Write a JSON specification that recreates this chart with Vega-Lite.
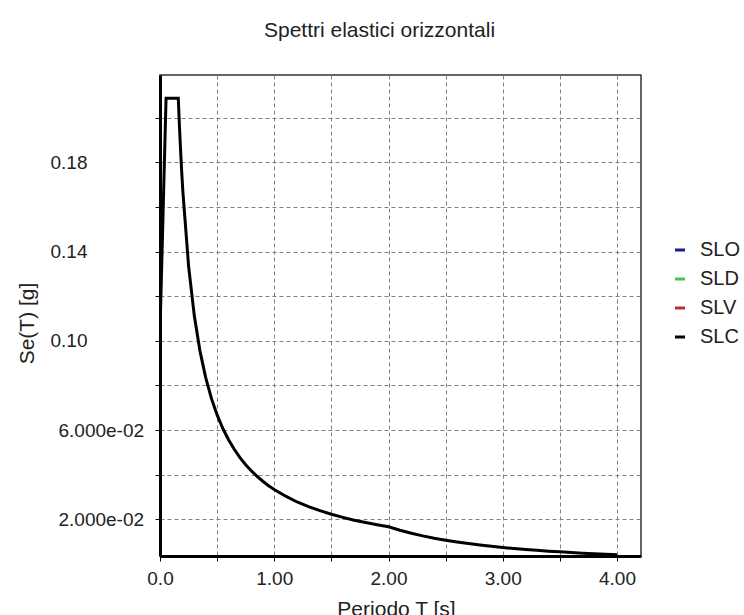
{
  "$schema": "https://vega.github.io/schema/vega-lite/v6.json",
  "width": 481,
  "height": 481,
  "autosize": {"type": "none"},
  "padding": {"left": 160, "top": 75, "right": 103, "bottom": 59},
  "background": "white",
  "title": {
    "text": "Spettri elastici orizzontali",
    "font": "Liberation Sans",
    "fontSize": 21,
    "fontWeight": "normal",
    "color": "#222222",
    "anchor": "middle",
    "dx": -21,
    "offset": 34
  },
  "data": {
    "values": [
      {"curve": "SLC", "T": 0.0, "Se": 0.1042},
      {"curve": "SLC", "T": 0.053, "Se": 0.2087},
      {"curve": "SLC", "T": 0.16, "Se": 0.2087},
      {"curve": "SLC", "T": 0.17, "Se": 0.1964},
      {"curve": "SLC", "T": 0.18, "Se": 0.1855},
      {"curve": "SLC", "T": 0.19, "Se": 0.1757},
      {"curve": "SLC", "T": 0.2, "Se": 0.167},
      {"curve": "SLC", "T": 0.25, "Se": 0.1336},
      {"curve": "SLC", "T": 0.3, "Se": 0.1113},
      {"curve": "SLC", "T": 0.35, "Se": 0.0954},
      {"curve": "SLC", "T": 0.4, "Se": 0.0835},
      {"curve": "SLC", "T": 0.45, "Se": 0.0742},
      {"curve": "SLC", "T": 0.5, "Se": 0.0668},
      {"curve": "SLC", "T": 0.55, "Se": 0.0607},
      {"curve": "SLC", "T": 0.6, "Se": 0.0557},
      {"curve": "SLC", "T": 0.65, "Se": 0.0514},
      {"curve": "SLC", "T": 0.7, "Se": 0.0477},
      {"curve": "SLC", "T": 0.75, "Se": 0.0445},
      {"curve": "SLC", "T": 0.8, "Se": 0.0417},
      {"curve": "SLC", "T": 0.85, "Se": 0.0393},
      {"curve": "SLC", "T": 0.9, "Se": 0.0371},
      {"curve": "SLC", "T": 0.95, "Se": 0.0351},
      {"curve": "SLC", "T": 1.0, "Se": 0.0334},
      {"curve": "SLC", "T": 1.1, "Se": 0.0304},
      {"curve": "SLC", "T": 1.2, "Se": 0.0278},
      {"curve": "SLC", "T": 1.3, "Se": 0.0257},
      {"curve": "SLC", "T": 1.4, "Se": 0.0239},
      {"curve": "SLC", "T": 1.5, "Se": 0.0223},
      {"curve": "SLC", "T": 1.6, "Se": 0.0209},
      {"curve": "SLC", "T": 1.7, "Se": 0.0196},
      {"curve": "SLC", "T": 1.8, "Se": 0.0186},
      {"curve": "SLC", "T": 1.9, "Se": 0.0176},
      {"curve": "SLC", "T": 2.0, "Se": 0.0167},
      {"curve": "SLC", "T": 2.1, "Se": 0.01514},
      {"curve": "SLC", "T": 2.2, "Se": 0.0138},
      {"curve": "SLC", "T": 2.3, "Se": 0.01262},
      {"curve": "SLC", "T": 2.4, "Se": 0.01159},
      {"curve": "SLC", "T": 2.5, "Se": 0.01068},
      {"curve": "SLC", "T": 2.6, "Se": 0.00988},
      {"curve": "SLC", "T": 2.7, "Se": 0.00916},
      {"curve": "SLC", "T": 2.8, "Se": 0.00852},
      {"curve": "SLC", "T": 2.9, "Se": 0.00794},
      {"curve": "SLC", "T": 3.0, "Se": 0.00742},
      {"curve": "SLC", "T": 3.1, "Se": 0.00695},
      {"curve": "SLC", "T": 3.2, "Se": 0.00652},
      {"curve": "SLC", "T": 3.3, "Se": 0.00613},
      {"curve": "SLC", "T": 3.4, "Se": 0.00578},
      {"curve": "SLC", "T": 3.5, "Se": 0.00545},
      {"curve": "SLC", "T": 3.6, "Se": 0.00515},
      {"curve": "SLC", "T": 3.7, "Se": 0.00488},
      {"curve": "SLC", "T": 3.8, "Se": 0.00462},
      {"curve": "SLC", "T": 3.9, "Se": 0.00439},
      {"curve": "SLC", "T": 4.0, "Se": 0.00417}
    ]
  },
  "mark": {"type": "line", "strokeWidth": 3, "clip": true},
  "encoding": {
    "x": {
      "field": "T",
      "type": "quantitative",
      "scale": {"domain": [0, 4.21], "nice": false, "zero": false},
      "axis": {
        "values": [0, 0.5, 1, 1.5, 2, 2.5, 3, 3.5, 4],
        "labelExpr": "datum.value == 0 ? '0.0' : (datum.value % 1 == 0 ? format(datum.value, '.2f') : '')",
        "labelOverlap": false,
        "labelFlush": false,
        "labelFont": "Liberation Sans",
        "labelFontSize": 19,
        "labelColor": "#222222",
        "labelPadding": 8,
        "tickSize": 5,
        "tickColor": "#000000",
        "tickWidth": 1,
        "domainColor": "#000000",
        "domainWidth": 3,
        "grid": true,
        "gridColor": "#808080",
        "gridDash": [4, 3],
        "gridWidth": 1,
        "title": "Periodo T [s]",
        "titleFont": "Liberation Sans",
        "titleFontSize": 21,
        "titleFontWeight": "normal",
        "titleColor": "#222222",
        "titleX": 236,
        "titleY": 42,
        "titleAlign": "center",
        "titleBaseline": "top"
      }
    },
    "y": {
      "field": "Se",
      "type": "quantitative",
      "scale": {"domain": [0.0036, 0.2191], "nice": false, "zero": false},
      "axis": {
        "values": [0.02, 0.04, 0.06, 0.08, 0.1, 0.12, 0.14, 0.16, 0.18, 0.2],
        "labelExpr": "round(datum.value*100) == 2 ? '2.000e-02' : round(datum.value*100) == 6 ? '6.000e-02' : round(datum.value*100) == 10 ? '0.10' : round(datum.value*100) == 14 ? '0.14' : round(datum.value*100) == 18 ? '0.18' : ''",
        "labelOverlap": false,
        "labelFlush": false,
        "labelAlign": "left",
        "labelBaseline": "middle",
        "labelPadding": {"condition": {"test": "datum.value > 0.09", "value": 105}, "value": 97},
        "labelFont": "Liberation Sans",
        "labelFontSize": 19,
        "labelColor": "#222222",
        "tickSize": 5,
        "tickColor": "#000000",
        "tickWidth": 1,
        "domainColor": "#000000",
        "domainWidth": 3,
        "grid": true,
        "gridColor": "#808080",
        "gridDash": [4, 3],
        "gridWidth": 1,
        "title": "Se(T) [g]",
        "titleFont": "Liberation Sans",
        "titleFontSize": 21,
        "titleFontWeight": "normal",
        "titleColor": "#222222",
        "titleX": -133,
        "titleY": 248,
        "titleAngle": -90,
        "titleAlign": "center",
        "titleBaseline": "middle"
      }
    },
    "color": {
      "field": "curve",
      "type": "nominal",
      "scale": {
        "domain": ["SLO", "SLD", "SLV", "SLC"],
        "range": ["#1c1c8c", "#4ec04e", "#b83232", "#000000"]
      },
      "legend": {
        "orient": "none",
        "legendX": 510,
        "legendY": 165,
        "title": null,
        "symbolType": "stroke",
        "symbolSize": 100,
        "symbolStrokeWidth": 3,
        "labelFont": "Liberation Sans",
        "labelFontSize": 20,
        "labelColor": "#222222",
        "labelOffset": 10,
        "rowPadding": 9,
        "padding": 0
      }
    }
  },
  "config": {
    "view": {"stroke": "#333333", "strokeWidth": 1.5}
  }
}
